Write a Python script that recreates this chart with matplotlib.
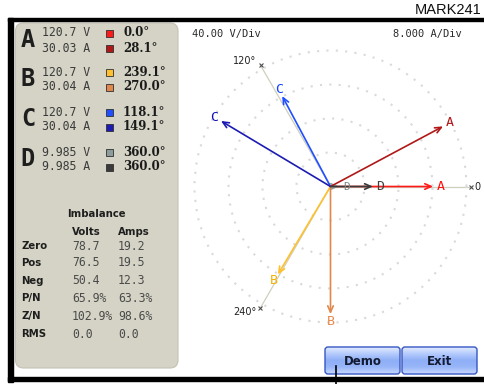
import numpy as np
import matplotlib
matplotlib.use('Agg')
import matplotlib.pyplot as plt
from matplotlib.patches import Rectangle, FancyBboxPatch
from matplotlib.colors import LinearSegmentedColormap
from matplotlib.ticker import NullFormatter

# ---------------- data ----------------
phases = ['A', 'B', 'C', 'D']
volts = [120.7, 120.7, 120.7, 9.985]
amps = [30.03, 30.04, 30.04, 9.985]
volt_angles = [0.0, 239.1, 118.1, 360.0]
amp_angles = [28.1, 270.0, 149.1, 360.0]
volt_colors = ['#ff1a1a', '#ffc030', '#1f4fff', '#8c9c9c']
amp_colors = ['#b01818', '#e0884c', '#1c1cb4', '#3a3a3a']
label_volt_colors = ['#ff1010', '#f5b000', '#1040ff', '#7a8484']
label_amp_colors = ['#b01818', '#e8884c', '#1010b8', '#404040']
volts_per_div = 40.0
amps_per_div = 8.0
ring_divs = [1, 2, 3, 4]
ref_angles = [0, 120, 240]
ref_labels = ['0', '120°', '240°']

imb_rows = ['Zero', 'Pos', 'Neg', 'P/N', 'Z/N', 'RMS']
imb_volts = ['78.7', '76.5', '50.4', '65.9%', '102.9%', '0.0']
imb_amps = ['19.2', '19.5', '12.3', '63.3%', '98.6%', '0.0']

W, H = 484, 384
fig = plt.figure(figsize=(W / 100, H / 100), dpi=100)
fig.patch.set_facecolor('white')

bg = fig.add_axes([0, 0, 1, 1])
bg.axis('off')

MONO = 'DejaVu Sans Mono'

# title-ish text
bg.text(415, 10.5, 'MARK241', fontsize=10.5, family='Liberation Sans', color='#111111',
        ha='left', va='center')

# black frame
bg.add_patch(Rectangle((8, 17.5), W - 8, 3.5, color='black', zorder=3))
bg.add_patch(Rectangle((8, 17.5), 5, 364, color='black', zorder=3))
bg.add_patch(Rectangle((8, 377), W - 8, 4, color='black', zorder=3))

# left panel
panel = FancyBboxPatch((15.5, 23), 162.5, 345, boxstyle='round,pad=0,rounding_size=8',
                       facecolor='#d5d3c5', edgecolor='#c4c2b4', lw=0.8, zorder=1)
bg.add_patch(panel)

row_y = [33, 72, 112, 152]
for i, ph in enumerate(phases):
    y = row_y[i]
    bg.text(28, y + 7, ph, fontsize=17, family=MONO, fontweight='bold', color='#1e1e1e',
            ha='center', va='center', zorder=2)
    bg.text(42, y, f'{volts[i]:.4g} V', fontsize=8.3, family=MONO, color='#3a3a3a',
            ha='left', va='center', zorder=2)
    bg.text(42, y + 15, f'{amps[i]:.4g} A', fontsize=8.3, family=MONO, color='#3a3a3a',
            ha='left', va='center', zorder=2)
    bg.add_patch(Rectangle((106, y - 3.5), 7, 7, facecolor=volt_colors[i],
                           edgecolor='#303030', lw=0.6, zorder=2))
    bg.add_patch(Rectangle((106, y + 11.5), 7, 7, facecolor=amp_colors[i],
                           edgecolor='#303030', lw=0.6, zorder=2))
    bg.text(123, y, f'{volt_angles[i]:.1f}°', fontsize=8.5, family='DejaVu Serif',
            fontweight='bold', color='#1a1a1a', ha='left', va='center', zorder=2)
    bg.text(123, y + 15, f'{amp_angles[i]:.1f}°', fontsize=8.5, family='DejaVu Serif',
            fontweight='bold', color='#1a1a1a', ha='left', va='center', zorder=2)

# imbalance table
bg.text(96, 214, 'Imbalance', fontsize=7.3, fontweight='bold', color='#1e1e1e',
        ha='center', va='center', zorder=2)
bg.text(72, 232, 'Volts', fontsize=7.3, fontweight='bold', color='#1e1e1e',
        ha='left', va='center', zorder=2)
bg.text(118, 232, 'Amps', fontsize=7.3, fontweight='bold', color='#1e1e1e',
        ha='left', va='center', zorder=2)
imb_y = [246, 263, 281, 298, 316, 334]
for lab, v, a, y in zip(imb_rows, imb_volts, imb_amps, imb_y):
    bg.text(21, y, lab, fontsize=7.3, fontweight='bold', color='#1e1e1e',
            ha='left', va='center', zorder=2)
    bg.text(72, y, v, fontsize=8.3, family=MONO, color='#4a4a4a',
            ha='left', va='center', zorder=2)
    bg.text(118, y, a, fontsize=8.3, family=MONO, color='#4a4a4a',
            ha='left', va='center', zorder=2)

# scale texts
bg.text(192, 34, f'{volts_per_div:.2f} V/Div', fontsize=7.5, family=MONO, color='#2a2a2a',
        ha='left', va='center')
bg.text(393, 34, f'{amps_per_div:.3f} A/Div', fontsize=7.5, family=MONO, color='#2a2a2a',
        ha='left', va='center')

# buttons
cmap = LinearSegmentedColormap.from_list(
    'btn', ['#e4ecff', '#b4cafc', '#8eaef6', '#98b6f8', '#c8d8ff'])
grad = np.linspace(0, 1, 64)[:, None]


def button(x0, y0, w, h, label):
    patch = FancyBboxPatch((x0, y0), w, h, boxstyle='round,pad=0,rounding_size=3',
                           facecolor='none', edgecolor='#3556c4', lw=1.0, zorder=6)
    bg.add_patch(patch)
    im = bg.imshow(grad, extent=(x0, x0 + w, y0 + h, y0), cmap=cmap, aspect='auto',
                   zorder=5, interpolation='bilinear')
    im.set_clip_path(patch)
    bg.text(x0 + w / 2, y0 + h / 2 + 1, label, fontsize=8.5, fontweight='bold',
            color='#141a30', ha='center', va='center', zorder=7)


button(325, 347, 75, 27, 'Demo')
button(402, 347, 75, 27, 'Exit')
bg.plot([335.5, 335.5], [366, 384], color='black', lw=1.2, zorder=8)

bg.set_xlim(0, W)
bg.set_ylim(H, 0)

# ---------------- phasor diagram ----------------
cx, cy, R = 330.5, 186.5, 140.0
px_per_div = 34.0
rmax = R / px_per_div
pax = fig.add_axes([(cx - R) / W, (H - cy - R) / H, 2 * R / W, 2 * R / H],
                   projection='polar')
pax.set_facecolor('none')
pax.set_ylim(0, rmax)
pax.set_yticks(ring_divs)
pax.yaxis.set_major_formatter(NullFormatter())
pax.set_xticks([])
pax.yaxis.grid(True, color='#d9d9d9', linestyle=(0, (1, 3.5)), linewidth=1.5)
pax.xaxis.grid(False)
pax.spines['polar'].set_visible(False)

for ang, lab in zip(ref_angles, ref_labels):
    th = np.deg2rad(ang)
    pax.plot([th, th], [0, rmax], color='#cfcfbd', lw=0.9, zorder=1)
    pax.plot([th], [rmax], marker='x', ms=3.5, mew=0.8, color='#505050',
             clip_on=False, zorder=2)
    if ang == 0:
        pax.annotate(lab, xy=(th, rmax), xytext=(3, 0), textcoords='offset points',
                     ha='left', va='center', fontsize=7, color='#222222',
                     annotation_clip=False)
    elif ang == 120:
        pax.annotate(lab, xy=(th, rmax), xytext=(-3, 3), textcoords='offset points',
                     ha='right', va='center', fontsize=7, color='#222222',
                     annotation_clip=False)
    else:
        pax.annotate(lab, xy=(th, rmax), xytext=(-3, -3), textcoords='offset points',
                     ha='right', va='center', fontsize=7, color='#222222',
                     annotation_clip=False)


def phasor(mag, ang, color, lab_color, label, fs=9.5):
    th = np.deg2rad(ang)
    pax.annotate('', xy=(th, mag), xytext=(0, 0),
                 arrowprops=dict(arrowstyle='->,head_length=0.45,head_width=0.2',
                                 color=color, lw=1.2, shrinkA=0, shrinkB=0),
                 zorder=3)
    pax.text(th, mag + 0.22, label, color=lab_color, fontsize=fs, family=MONO,
             ha='center', va='center', zorder=4)


for i, ph in enumerate(phases):
    phasor(volts[i] / volts_per_div, volt_angles[i], volt_colors[i],
           label_volt_colors[i], ph, fs=(8 if ph == 'D' else 9.5))
for i, ph in enumerate(phases):
    phasor(amps[i] / amps_per_div, amp_angles[i], amp_colors[i],
           label_amp_colors[i], ph)

fig.savefig('out.png', dpi=100)
